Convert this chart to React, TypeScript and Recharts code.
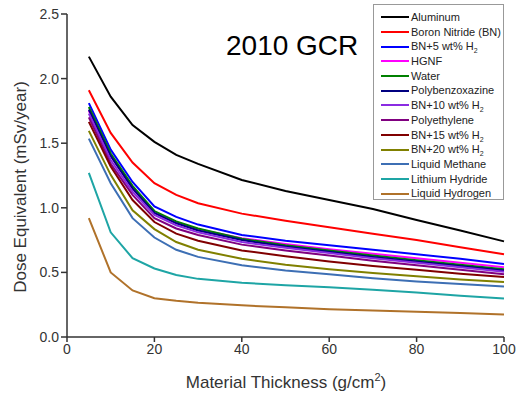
import React from 'react';
import { LineChart, Line, XAxis, YAxis, Legend } from 'recharts';

const thickness = [5, 10, 15, 20, 25, 30, 40, 50, 60, 70, 80, 90, 100];

const aluminum = [2.17, 1.86, 1.64, 1.51, 1.41, 1.34, 1.215, 1.13, 1.06, 0.99, 0.905, 0.825, 0.74];
const boronNitride = [1.91, 1.58, 1.35, 1.19, 1.1, 1.035, 0.955, 0.9, 0.85, 0.8, 0.75, 0.695, 0.64];
const bn5 = [1.81, 1.45, 1.2, 1.01, 0.93, 0.87, 0.79, 0.745, 0.71, 0.675, 0.64, 0.605, 0.565];
const hgnf = [1.75, 1.4, 1.15, 0.96, 0.885, 0.835, 0.765, 0.72, 0.68, 0.645, 0.61, 0.575, 0.54];
const water = [1.78, 1.42, 1.17, 0.975, 0.895, 0.84, 0.76, 0.71, 0.67, 0.63, 0.595, 0.56, 0.525];
const polybenzoxazine = [1.76, 1.4, 1.15, 0.96, 0.88, 0.825, 0.75, 0.7, 0.66, 0.62, 0.585, 0.55, 0.515];
const bn10 = [1.73, 1.37, 1.125, 0.945, 0.865, 0.81, 0.735, 0.69, 0.65, 0.61, 0.575, 0.54, 0.505];
const polyethylene = [1.7, 1.34, 1.1, 0.92, 0.84, 0.79, 0.715, 0.67, 0.63, 0.59, 0.555, 0.52, 0.485];
const bn15 = [1.665, 1.32, 1.06, 0.89, 0.8, 0.745, 0.67, 0.625, 0.585, 0.55, 0.52, 0.49, 0.465];
const bn20 = [1.595, 1.255, 0.98, 0.835, 0.735, 0.675, 0.605, 0.56, 0.525, 0.495, 0.47, 0.445, 0.425];
const liquidMethane = [1.535, 1.19, 0.92, 0.77, 0.675, 0.62, 0.555, 0.515, 0.485, 0.455, 0.43, 0.41, 0.39];
const lithiumHydride = [1.27, 0.81, 0.61, 0.53, 0.48, 0.45, 0.42, 0.4, 0.385, 0.365, 0.345, 0.32, 0.298];
const liquidHydrogen = [0.92, 0.5, 0.36, 0.3, 0.28, 0.265, 0.245, 0.23, 0.215, 0.205, 0.195, 0.185, 0.174];

const seriesNames = [
  'Aluminum',
  'Boron Nitride (BN)',
  'BN+5 wt% H2',
  'HGNF',
  'Water',
  'Polybenzoxazine',
  'BN+10 wt% H2',
  'Polyethylene',
  'BN+15 wt% H2',
  'BN+20 wt% H2',
  'Liquid Methane',
  'Lithium Hydride',
  'Liquid Hydrogen',
];
const seriesValues = [
  aluminum, boronNitride, bn5, hgnf, water, polybenzoxazine, bn10,
  polyethylene, bn15, bn20, liquidMethane, lithiumHydride, liquidHydrogen,
];
const seriesColors = [
  '#000000', '#ff0000', '#0000ff', '#ff00ff', '#008000', '#000080', '#8a2be2',
  '#800080', '#800000', '#808000', '#3d6fb4', '#1ea5a5', '#b0722a',
];

const xTicks = [0, 20, 40, 60, 80, 100];
const yTicks = [0, 0.5, 1.0, 1.5, 2.0, 2.5];

const data = thickness.map((t, i) => {
  const row: Record<string, number> = { t };
  seriesNames.forEach((n, k) => {
    row[n] = seriesValues[k][i];
  });
  return row;
});

const FONT = '"Liberation Sans", Arial, sans-serif';

function renderName(n: string) {
  const m = n.match(/^(.*H)2$/);
  if (m) {
    return (
      <>
        {m[1]}
        <sub style={{ fontSize: 7, verticalAlign: '-3px', lineHeight: 0 }}>2</sub>
      </>
    );
  }
  return n;
}

const LegendContent = (props: any) => {
  const payload = [...(props.payload || [])].sort(
    (a: any, b: any) => seriesNames.indexOf(a.value) - seriesNames.indexOf(b.value)
  );
  return (
    <div
      style={{
        border: '1px solid #999',
        background: '#fff',
        width: 131,
        height: 196,
        boxSizing: 'border-box',
        paddingTop: 5,
        fontFamily: FONT,
        fontSize: 11,
        color: '#222',
      }}
    >
      {payload.map((p: any) => (
        <div key={p.value} style={{ height: 14.7, lineHeight: '14.7px', display: 'flex', alignItems: 'center', whiteSpace: 'nowrap' }}>
          <span style={{ display: 'inline-block', marginLeft: 7, width: 28, height: 2, background: p.color, marginRight: 2 }} />
          <span>{renderName(p.value)}</span>
        </div>
      ))}
    </div>
  );
};

export default function App() {
  return (
    <div style={{ position: 'absolute', left: 0, top: 0, width: 517, height: 396, background: '#fff' }}>
      <LineChart width={517} height={396} data={data} margin={{ top: 14, right: 13, bottom: 0, left: 0 }}>
        <XAxis
          dataKey="t"
          type="number"
          domain={[0, 100]}
          ticks={xTicks}
          height={59}
          stroke="#333"
          strokeWidth={1.5}
          tickSize={5}
          tick={{ fill: '#333', fontSize: 14, fontFamily: FONT }}
          label={{
            content: () => (
              <text x={286} y={388} textAnchor="middle" fill="#333" fontSize={17} fontFamily={FONT}>
                Material Thickness (g/cm
                <tspan dy={-7} fontSize={11}>2</tspan>
                <tspan dy={7}>)</tspan>
              </text>
            ),
          }}
        />
        <YAxis
          type="number"
          domain={[0, 2.5]}
          ticks={yTicks}
          width={67}
          stroke="#333"
          strokeWidth={1.5}
          tickSize={6}
          tickFormatter={(v: number) => v.toFixed(1)}
          tick={{ fill: '#333', fontSize: 14, fontFamily: FONT }}
          label={{
            content: () => (
              <text x={26} y={187} transform="rotate(-90 26 187)" textAnchor="middle" fill="#333" fontSize={17} fontFamily={FONT}>
                Dose Equivalent (mSv/year)
              </text>
            ),
          }}
        />
        <Legend
          verticalAlign="middle"
          align="center"
          layout="vertical"
          content={LegendContent}
          wrapperStyle={{ position: 'absolute', left: 373, top: 4, width: 131, height: 196 }}
        />
        {seriesNames.map((n, k) => (
          <Line
            key={n}
            type="linear"
            dataKey={n}
            name={n}
            stroke={seriesColors[k]}
            strokeWidth={2}
            dot={false}
            isAnimationActive={false}
          />
        ))}
      </LineChart>
      <div
        style={{
          position: 'absolute',
          left: 226,
          top: 30,
          fontFamily: FONT,
          fontSize: 28,
          color: '#000',
          whiteSpace: 'nowrap',
          lineHeight: '32px',
        }}
      >
        2010 GCR
      </div>
    </div>
  );
}
